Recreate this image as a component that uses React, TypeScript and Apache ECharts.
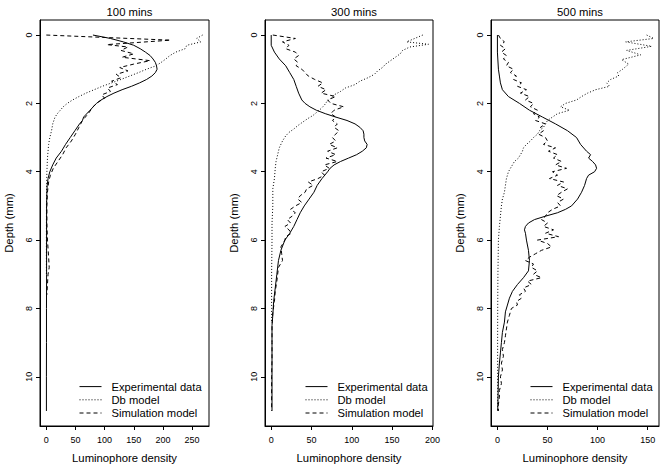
import React, { useEffect, useRef } from "react";
import * as echarts from "echarts";

const FONT = '"Liberation Sans", Arial, Helvetica, sans-serif';

const panelTitles = ["100 mins", "300 mins", "500 mins"];
const seriesNames = ["Experimental data", "Db model", "Simulation model"];
const depthTicks = [0, 2, 4, 6, 8, 10];
const densityTicks1 = [0, 50, 100, 150, 200, 250];
const densityTicks2 = [0, 50, 100, 150, 200];
const densityTicks3 = [0, 50, 100, 150];

// [depth (mm), luminophore density]
const exp100 = [[0,80],[0.1,110],[0.2,132],[0.3,150],[0.4,161],[0.5,170],[0.6,178],[0.7,183],[0.8,187],[0.9,189],[1.0,190],[1.1,187],[1.2,181],[1.3,172],[1.4,160],[1.5,146],[1.6,130],[1.7,116],[1.8,104],[1.9,94],[2.0,86],[2.2,75],[2.4,64],[2.5,62],[2.6,57],[2.8,49],[3.0,41],[3.2,33],[3.4,26],[3.6,17],[3.8,11],[4.0,6],[4.2,3],[4.4,1.5],[4.6,1],[5,0.5],[6,0.5],[7,0.5],[8,0.3],[9,0.3],[10,0.2],[11,0.2]];
const db100 = [[0,268],[0.1,258],[0.2,265],[0.3,241],[0.4,238],[0.5,222],[0.6,212],[0.7,205],[0.8,197],[0.9,188],[1.0,172],[1.1,158],[1.2,143],[1.3,128],[1.4,112],[1.5,96],[1.6,82],[1.7,68],[1.8,56],[1.9,45],[2.0,36],[2.1,29],[2.2,24],[2.3,19],[2.4,15],[2.6,11],[2.8,9],[3.0,6],[3.2,4],[3.4,3],[3.6,2],[3.8,1.5],[4.0,1],[4.5,0.5],[5,0.3],[6,0.2],[7,0.2]];
const sim100 = [[0,0],[0.15,213],[0.28,104],[0.35,140],[0.45,128],[0.55,150],[0.65,130],[0.75,178],[0.85,150],[0.95,126],[1.05,140],[1.15,120],[1.25,128],[1.35,112],[1.45,122],[1.55,105],[1.65,110],[1.75,95],[1.85,100],[1.95,90],[2.1,80],[2.3,72],[2.5,62],[2.7,56],[2.9,50],[3.1,43],[3.3,34],[3.5,28],[3.7,20],[3.9,12],[4.1,7],[4.3,4],[4.6,2],[5,1],[5.5,1],[6,2],[6.5,4],[6.8,5],[7.0,3],[7.3,2],[7.6,1]];

const exp300 = [[0,0],[0.3,0],[0.5,4],[0.7,10],[0.9,18],[1.1,23],[1.3,28],[1.5,31],[1.7,34],[1.9,38],[2.0,42],[2.1,48],[2.2,56],[2.3,67],[2.4,80],[2.5,94],[2.6,104],[2.7,110],[2.8,114],[2.9,115],[3.0,115],[3.1,116],[3.2,119],[3.3,118],[3.4,113],[3.5,106],[3.6,96],[3.7,86],[3.8,78],[3.9,73],[4.0,70],[4.2,63],[4.4,57],[4.6,53],[4.8,47],[5.0,41],[5.2,36],[5.4,32],[5.6,28],[5.8,23],[6.0,17],[6.3,12],[6.6,9],[7.0,7],[7.4,5],[7.8,3],[8.2,2],[8.5,1],[9,1],[10,1],[11,1]];
const db300 = [[0,188],[0.1,178],[0.2,168],[0.27,195],[0.35,172],[0.45,163],[0.55,160],[0.65,154],[0.75,148],[0.85,142],[0.95,138],[1.05,132],[1.15,128],[1.25,120],[1.35,110],[1.45,104],[1.55,92],[1.65,86],[1.75,78],[1.85,74],[1.95,69],[2.05,66],[2.15,62],[2.25,57],[2.35,52],[2.45,45],[2.55,39],[2.65,33],[2.75,28],[2.85,22],[2.95,18],[3.1,14],[3.3,10],[3.5,8],[3.7,6],[3.9,5],[4.2,4],[4.5,2],[5.0,2],[5.5,1],[6,1],[7,0.5],[8,0.5],[8.4,0.5]];
const sim300 = [[0,2],[0.1,30],[0.2,14],[0.3,22],[0.4,18],[0.5,30],[0.6,34],[0.7,28],[0.8,33],[0.9,31],[1.0,38],[1.1,42],[1.2,46],[1.3,54],[1.4,64],[1.5,58],[1.6,68],[1.7,62],[1.8,80],[1.9,70],[2.0,74],[2.1,90],[2.2,78],[2.3,74],[2.4,80],[2.5,76],[2.6,82],[2.7,78],[2.8,84],[2.9,80],[3.0,76],[3.1,80],[3.2,72],[3.3,82],[3.4,70],[3.5,80],[3.6,68],[3.7,82],[3.8,66],[3.9,72],[4.0,62],[4.1,66],[4.2,58],[4.3,46],[4.4,52],[4.5,44],[4.6,42],[4.7,36],[4.8,33],[4.9,38],[5.0,30],[5.1,24],[5.2,30],[5.3,26],[5.4,20],[5.5,24],[5.6,17],[5.7,22],[5.8,25],[5.9,18],[6.0,17],[6.2,12],[6.4,13],[6.6,14],[6.8,9],[7.0,8],[7.2,7],[7.5,5],[7.8,4],[8.1,2],[8.5,1],[9,1],[9.5,1],[10,0.5],[10.5,0.5],[11,0.5]];

const exp500 = [[0,0],[0.5,0],[1.0,1],[1.2,2],[1.4,3],[1.6,5],[1.8,11],[2.0,22],[2.2,32],[2.4,45],[2.6,58],[2.8,70],[3.0,79],[3.2,83],[3.4,89],[3.5,93],[3.6,91],[3.7,95],[3.8,98],[3.9,99],[4.0,97],[4.1,91],[4.2,89],[4.4,87],[4.6,84],[4.8,80],[5.0,74],[5.1,68],[5.2,60],[5.3,48],[5.4,37],[5.5,31],[5.6,28],[5.7,27],[5.8,28],[6.0,29],[6.3,31],[6.6,32],[6.9,31],[7.1,26],[7.3,20],[7.5,15],[7.7,12],[7.9,10],[8.1,8],[8.4,7],[8.7,5],[9.0,4],[9.3,3],[9.6,2],[10,1],[10.5,0.7],[11,0.3]];
const db500 = [[0,149],[0.1,156],[0.2,128],[0.33,154],[0.45,129],[0.58,143],[0.72,124],[0.85,131],[1.0,125],[1.1,120],[1.2,121],[1.3,113],[1.4,109],[1.5,112],[1.6,98],[1.7,90],[1.8,84],[1.9,79],[2.0,68],[2.1,63],[2.2,72],[2.3,60],[2.4,55],[2.5,50],[2.6,48],[2.7,46],[2.8,42],[2.9,40],[3.0,36],[3.1,33],[3.2,29],[3.3,26],[3.4,25],[3.5,23],[3.6,21],[3.7,17],[3.8,15],[3.9,13],[4.0,11],[4.2,9],[4.4,8],[4.6,7],[4.8,5],[5.0,4],[5.3,3],[5.6,2],[6.0,1],[7,0.5],[8,0.3],[9,0.2],[10,0.2],[11,0.2]];
const sim500 = [[0,1],[0.1,3],[0.2,7],[0.3,3],[0.4,8],[0.5,4],[0.6,9],[0.7,6],[0.8,11],[0.9,9],[1.0,16],[1.1,13],[1.2,19],[1.3,16],[1.4,24],[1.5,20],[1.6,29],[1.7,23],[1.8,32],[1.9,28],[2.0,36],[2.1,33],[2.2,40],[2.3,36],[2.4,42],[2.5,38],[2.6,48],[2.7,43],[2.8,46],[2.9,41],[3.0,48],[3.1,50],[3.2,46],[3.3,58],[3.4,51],[3.5,60],[3.6,56],[3.7,64],[3.8,58],[3.9,69],[4.0,55],[4.1,60],[4.2,52],[4.3,66],[4.4,60],[4.5,70],[4.6,64],[4.7,59],[4.8,66],[4.9,60],[5.0,63],[5.1,55],[5.2,50],[5.3,48],[5.4,44],[5.5,50],[5.6,46],[5.7,56],[5.8,48],[5.9,61],[6.0,40],[6.1,50],[6.2,54],[6.3,44],[6.4,38],[6.5,32],[6.6,28],[6.7,36],[6.8,34],[6.9,40],[7.0,36],[7.1,44],[7.2,30],[7.3,34],[7.4,26],[7.5,28],[7.6,22],[7.7,24],[7.8,19],[7.9,20],[8.0,14],[8.2,12],[8.4,10],[8.6,9],[8.8,8],[9.0,7],[9.2,5],[9.4,6],[9.6,4],[9.8,5],[10.0,3],[10.2,4],[10.4,2],[10.6,2],[10.8,1],[11,1]];

const panelData = [
  [exp100, db100, sim100],
  [exp300, db300, sim300],
  [exp500, db500, sim500],
];
const densityTicks = [densityTicks1, densityTicks2, densityTicks3];

// layout (pixels)
const gridLefts = [40, 265, 491];
const gridWidths = [169, 168, 168];
const xRanges = [[-10.8, 279], [-7.7, 200.7], [-6.4, 161.3]];
const legendLefts = [79, 305, 530];
const lineTypes: any[] = ["solid", [1, 2], [4, 3]];

export default function App() {
  const ref = useRef<HTMLDivElement>(null);
  useEffect(() => {
    if (!ref.current) return;
    const chart = echarts.init(ref.current, undefined, { renderer: "svg" });
    const grids = gridLefts.map((l, i) => ({
      left: l,
      top: 20,
      width: gridWidths[i],
      height: 407,
      show: true,
      borderColor: "#000",
      borderWidth: 1,
      backgroundColor: "transparent",
    }));
    const xAxes = [0, 1, 2].map((i) => ({
      type: "value",
      gridIndex: i,
      position: "bottom",
      min: xRanges[i][0],
      max: xRanges[i][1],
      axisLine: { show: true, onZero: false, lineStyle: { color: "#000", width: 1 } },
      splitLine: { show: false },
      axisTick: { show: true, customValues: densityTicks[i], length: 4, lineStyle: { color: "#000", width: 1 } },
      axisLabel: { customValues: densityTicks[i], fontSize: 9, color: "#000", fontFamily: FONT, margin: 9 },
      name: "Luminophore density",
      nameLocation: "middle",
      nameGap: 26,
      nameTextStyle: { fontSize: 11.3, color: "#000", fontFamily: FONT },
    }));
    const yAxes = [0, 1, 2].map((i) => ({
      type: "value",
      gridIndex: i,
      position: "left",
      inverse: true,
      min: -0.44,
      max: 11.44,
      axisLine: { show: true, onZero: false, lineStyle: { color: "#000", width: 1 } },
      splitLine: { show: false },
      axisTick: { show: true, customValues: depthTicks, length: 4, lineStyle: { color: "#000", width: 1 } },
      axisLabel: { customValues: depthTicks, rotate: 90, fontSize: 9, color: "#000", fontFamily: FONT, margin: 7 },
      name: "Depth (mm)",
      nameLocation: "middle",
      nameGap: 26,
      nameTextStyle: { fontSize: 11.3, color: "#000", fontFamily: FONT },
    }));
    const series: any[] = [];
    panelData.forEach((sets, i) => {
      sets.forEach((pts, k) => {
        series.push({
          type: "line",
          name: seriesNames[k],
          xAxisIndex: i,
          yAxisIndex: i,
          data: pts.map((p) => [p[1], p[0]]),
          symbol: "none",
          showSymbol: false,
          lineStyle: { color: "#000", width: 1, type: lineTypes[k] },
          itemStyle: { color: "#000" },
          z: 3 - k,
        });
      });
    });
    chart.setOption({
      animation: false,
      backgroundColor: "#fff",
      title: panelTitles.map((t, i) => ({
        text: t,
        left: gridLefts[i] + gridWidths[i] / 2,
        top: 1,
        textAlign: "center",
        textStyle: { fontSize: 11.3, fontWeight: "normal", color: "#000", fontFamily: FONT },
      })),
      legend: legendLefts.map((l) => ({
        orient: "vertical",
        left: l,
        top: 381,
        padding: 0,
        itemWidth: 22,
        itemHeight: 14,
        itemGap: 2,
        selectedMode: false,
        data: seriesNames,
        itemStyle: { opacity: 0 },
        lineStyle: { width: 1 },
        textStyle: { fontSize: 11.2, color: "#000", fontFamily: FONT, padding: [0, 0, 0, 5] },
      })),
      grid: grids,
      xAxis: xAxes,
      yAxis: yAxes,
      series,
    });
    return () => chart.dispose();
  }, []);
  return (
    <div
      ref={ref}
      style={{ position: "fixed", left: 0, top: 0, width: 662, height: 468, background: "#fff" }}
    />
  );
}
